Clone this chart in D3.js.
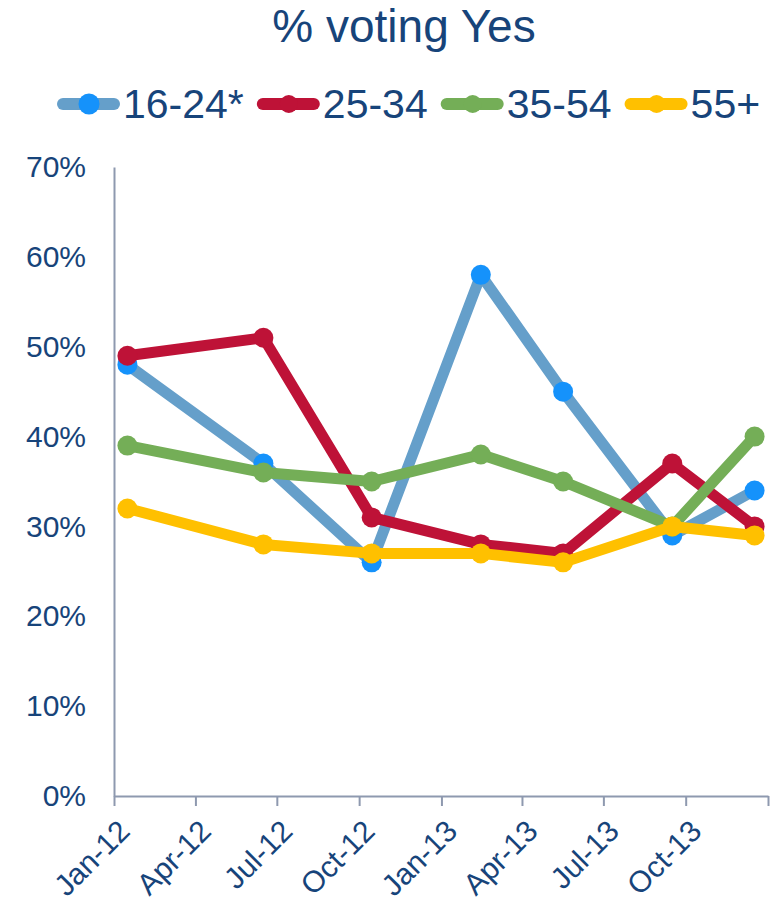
<!DOCTYPE html>
<html><head><meta charset="utf-8">
<script src="https://cdn.jsdelivr.net/npm/d3@7"></script>
<style>body{margin:0;background:#fff}</style>
</head><body>
<svg id="c" width="774" height="905"></svg>
<script>
const title = "% voting Yes";
const dates = ["2012-01-16","2012-06-16","2012-10-15","2013-02-14","2013-05-17","2013-09-16","2013-12-17"];
const seriesNames = ["16-24*","25-34","35-54","55+"];
const v1624 = [48,37,26,58,45,29,34];
const v2534 = [49,51,31,28,27,37,30];
const v3554 = [39,36,35,38,35,30,40];
const v55 = [32,28,27,27,26,30,29];
const yTicks = [0,10,20,30,40,50,60,70];
const xTickLabels = ["Jan-12","Apr-12","Jul-12","Oct-12","Jan-13","Apr-13","Jul-13","Oct-13",""];
const lineColors = ["#659FCA","#BE1237","#74AE57","#FFC000"];
const markerColors = ["#1592FB","#BE1237","#74AE57","#FFC000"];

const textColor = "#17447a";
const axisColor = "#8e99af";
const font = "'Liberation Sans', Arial, sans-serif";
const parse = d3.timeParse("%Y-%m-%d");
const dateObjs = dates.map(parse);
const values = [v1624, v2534, v3554, v55];
const series = seriesNames.map((n,i)=>({name:n, line:lineColors[i], marker:markerColors[i],
  points: dateObjs.map((d,j)=>({date:d, v:values[i][j]}))}));

const svg = d3.select("#c").style("font-family", font);

const x = d3.scaleTime().domain([new Date(2012,0,1), new Date(2014,0,1)]).range([114,768]);
const y = d3.scaleLinear().domain([0,70]).range([796,167]);

// title
svg.append("text").attr("x",404).attr("y",42).attr("text-anchor","middle")
  .attr("font-size",46).attr("fill",textColor).text(title);

// legend
const lg = svg.append("g");
let lx = 57;
const ly = 104;
series.forEach((s,i)=>{
  const g = lg.append("g");
  g.append("line").attr("x1",lx+6).attr("x2",lx+57).attr("y1",ly).attr("y2",ly)
    .attr("stroke",s.line).attr("stroke-width",12).attr("stroke-linecap","round");
  g.append("circle").attr("cx",lx+32).attr("cy",ly).attr("r",i===0?10.5:9).attr("fill",s.marker);
  const t = g.append("text").attr("x",lx+66).attr("y",118).attr("font-size",41)
    .attr("fill",textColor).text(s.name);
  const w = t.node().getComputedTextLength();
  lx = lx + 66 + w + 13;
});

// y axis
const yAxis = svg.append("g").attr("transform","translate(114,0)")
  .call(d3.axisLeft(y).tickValues(yTicks).tickSize(0).tickPadding(28).tickFormat(d=>d+"%"));
yAxis.select(".domain").attr("stroke",axisColor).attr("stroke-width",2);
yAxis.selectAll("text").attr("font-size",30).attr("fill",textColor).attr("font-family",font);

// x axis
const xTicks = d3.timeMonth.range(new Date(2012,0,1), new Date(2014,0,2), 3);
const xAxis = svg.append("g").attr("transform","translate(0,796)")
  .call(d3.axisBottom(x).tickValues(xTicks).tickSize(10).tickSizeOuter(0)
    .tickFormat((d,i)=>xTickLabels[i]));
xAxis.select(".domain").attr("stroke",axisColor).attr("stroke-width",2);
xAxis.selectAll(".tick line").attr("stroke",axisColor).attr("stroke-width",2);
xAxis.selectAll(".tick text").attr("font-size",30).attr("fill",textColor).attr("font-family",font)
  .attr("text-anchor","end").attr("x",0).attr("y",0).attr("dy",null)
  .attr("transform","translate(17,37) rotate(-45)");

// lines
const line = d3.line().x(d=>x(d.date)).y(d=>y(d.v));
series.forEach(s=>{
  const g = svg.append("g");
  g.append("path").datum(s.points).attr("d",line).attr("fill","none")
    .attr("stroke",s.line).attr("stroke-width",11).attr("stroke-linejoin","round").attr("stroke-linecap","round");
  g.selectAll("circle").data(s.points).join("circle")
    .attr("cx",d=>x(d.date)).attr("cy",d=>y(d.v)).attr("r",10).attr("fill",s.marker);
});
</script>
</body></html>
